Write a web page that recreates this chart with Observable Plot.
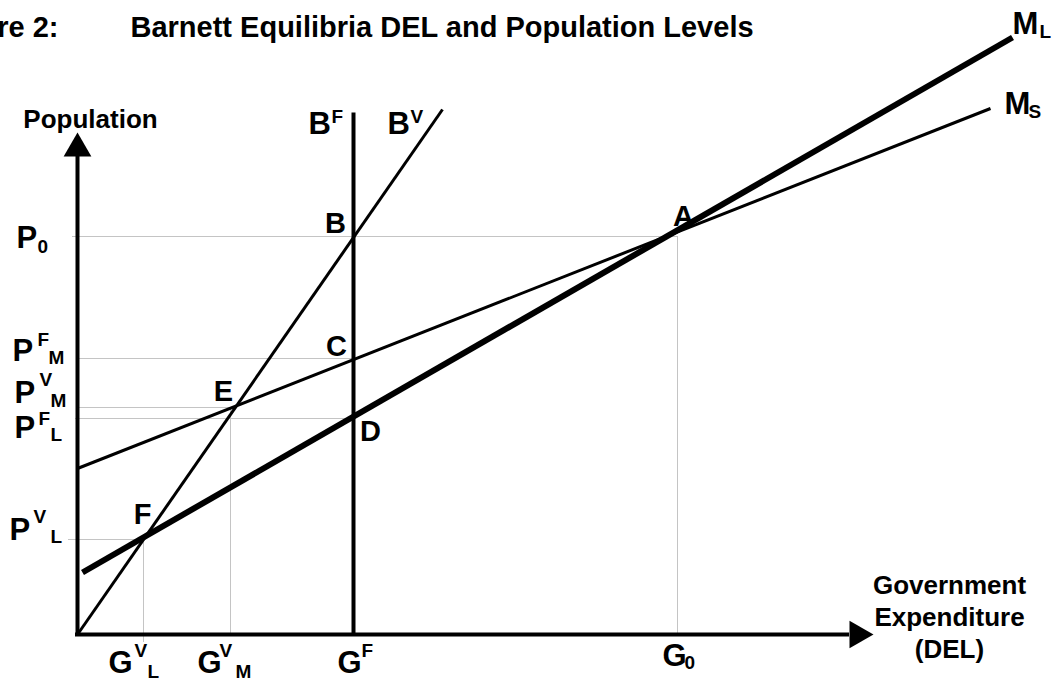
<!DOCTYPE html>
<html><head><meta charset="utf-8">
<script src="https://cdn.jsdelivr.net/npm/d3@7"></script>
<script src="https://cdn.jsdelivr.net/npm/@observablehq/plot@0.6"></script>
<style>html,body{margin:0;padding:0;background:#fff;overflow:hidden}</style>
</head><body><div id="chart"></div>
<script>
// Abstract units: G = government expenditure (DEL), P = population
const titleLead = "Figure 2:";
const titleMain = "Barnett Equilibria DEL and Population Levels";
const titleLeadG = -19, titleMainG = 53, titleP = 598;

// Curves (endpoints)
const curveNames = ["ML", "MS", "BF", "BV"];
const curveG1 = [5, 0, 276, 0];
const curveP1 = [62, 166, 0, 0];
const curveG2 = [935, 913, 276, 365];
const curveP2 = [597, 526, 522, 525];

// Equilibrium points and their letters
const pointNames = ["A", "B", "C", "D", "E", "F"];
const pointLabelG = [606, 258, 259, 293, 146, 65];
const pointLabelP = [409, 402, 279, 194, 234, 111];

// Grey guide lines
const hGuideP = [398, 276, 227, 216, 95];     // P0, PF_M, PV_M, PF_L, PV_L
const hGuideFrom = [-5, 0, 0, -2, -9];
const hGuideTo = [600, 276, 155, 276, 66];
const vGuideG = [600, 153, 66];                // G0, GV_M, GV_L
const vGuideFrom = [398, 227, 95];
const vGuideTo = [0, 0, -8];

// Axis extents
const axisTopP = 480;
const axisRightG = 772;
const arrowP = 486;
const arrowG = 780;

// Axis-level labels: base letter, superscript, subscript
const baseText = ["P", "P", "P", "P", "P", "G", "G", "G", "G", "B", "B", "M", "M"];
const baseG = [-61, -65, -63, -63, -68, 31, 120, 260, 585, 231, 310, 935, 927];
const baseP = [387, 274, 232, 197, 95, -38, -38, -38, -31, 501, 501, 601, 521];
const supText = ["F", "V", "F", "V", "V", "V", "F", "F", "V"];
const supG = [-40, -38, -39, -44, 57, 142, 284, 254, 333];
const supP = [289, 249, 210, 112, -22, -22, -22, 512, 512];
const subText = ["0", "M", "M", "L", "L", "L", "M", "0", "L", "S"];
const subG = [-40, -29, -27, -27, -27, 70, 158, 607, 962, 951];
const subP = [382, 271, 228, 194, 92, -43, -43, -34, 597, 517];

const yTitle = "Population";
const yTitleG = 13, yTitleP = 507;
const xTitle = "Government\nExpenditure\n(DEL)";
const xTitleG = 872, xTitleP = -23;

const widthOf = {ML: 6, MS: 3, BF: 4, BV: 3};
const curves = curveNames.map((n, i) => ({name: n, g1: curveG1[i], p1: curveP1[i], g2: curveG2[i], p2: curveP2[i]}));
const zip3 = (t, g, p) => t.map((s, i) => ({t: s, g: g[i], p: p[i]}));
const hGuides = hGuideP.map((p, i) => ({p, from: hGuideFrom[i], to: hGuideTo[i]}));
const vGuides = vGuideG.map((g, i) => ({g, from: vGuideFrom[i], to: vGuideTo[i]}));

const grey = "#c4c4c4";
const plot = Plot.plot({
  width: 1058, height: 684,
  marginLeft: 77, marginRight: 0, marginTop: 0, marginBottom: 50,
  x: {domain: [0, 981], axis: null},
  y: {domain: [0, 634], axis: null},
  style: {fontFamily: "'Liberation Sans', Arial, sans-serif", background: "white", color: "black"},
  marks: [
    Plot.ruleY(hGuides, {y: "p", x1: "from", x2: "to", stroke: grey, strokeWidth: 1}),
    Plot.ruleX(vGuides, {x: "g", y1: "from", y2: "to", stroke: grey, strokeWidth: 1}),
    Plot.link(curves, {x1: "g1", y1: "p1", x2: "g2", y2: "p2", stroke: "black", strokeWidth: d => widthOf[d.name], strokeLinecap: "butt"}),
    Plot.ruleX([0], {y1: -2, y2: axisTopP, stroke: "black", strokeWidth: 4}),
    Plot.ruleY([0], {x1: -2, x2: axisRightG, stroke: "black", strokeWidth: 4}),
    Plot.dot([{g: 0, p: arrowP, rot: 0}, {g: arrowG, p: 0, rot: 90}], {x: "g", y: "p", rotate: "rot", symbol: "triangle", r: 10.3, fill: "black", stroke: "none"}),
    Plot.text([titleLead], {x: titleLeadG, y: titleP, text: d => d, textAnchor: "end", lineAnchor: "bottom", fontSize: 29, fontWeight: "bold"}),
    Plot.text([titleMain], {x: titleMainG, y: titleP, text: d => d, textAnchor: "start", lineAnchor: "bottom", fontSize: 29, fontWeight: "bold"}),
    Plot.text(zip3(pointNames, pointLabelG, pointLabelP), {x: "g", y: "p", text: "t", textAnchor: "middle", lineAnchor: "bottom", fontSize: 29, fontWeight: "bold"}),
    Plot.text(zip3(baseText, baseG, baseP), {x: "g", y: "p", text: "t", textAnchor: "start", lineAnchor: "bottom", fontSize: 31, fontWeight: "bold"}),
    Plot.text(zip3(supText, supG, supP), {x: "g", y: "p", text: "t", textAnchor: "start", lineAnchor: "bottom", fontSize: 19, fontWeight: "bold"}),
    Plot.text(zip3(subText, subG, subP), {x: "g", y: "p", text: "t", textAnchor: "start", lineAnchor: "bottom", fontSize: 19, fontWeight: "bold"}),
    Plot.text([yTitle], {x: yTitleG, y: yTitleP, text: d => d, textAnchor: "middle", lineAnchor: "bottom", fontSize: 26, fontWeight: "bold"}),
    Plot.text([xTitle], {x: xTitleG, y: xTitleP, text: d => d, textAnchor: "middle", lineAnchor: "bottom", lineHeight: 1.23, fontSize: 26, fontWeight: "bold"})
  ]
});
document.getElementById("chart").appendChild(plot);
</script></body></html>
